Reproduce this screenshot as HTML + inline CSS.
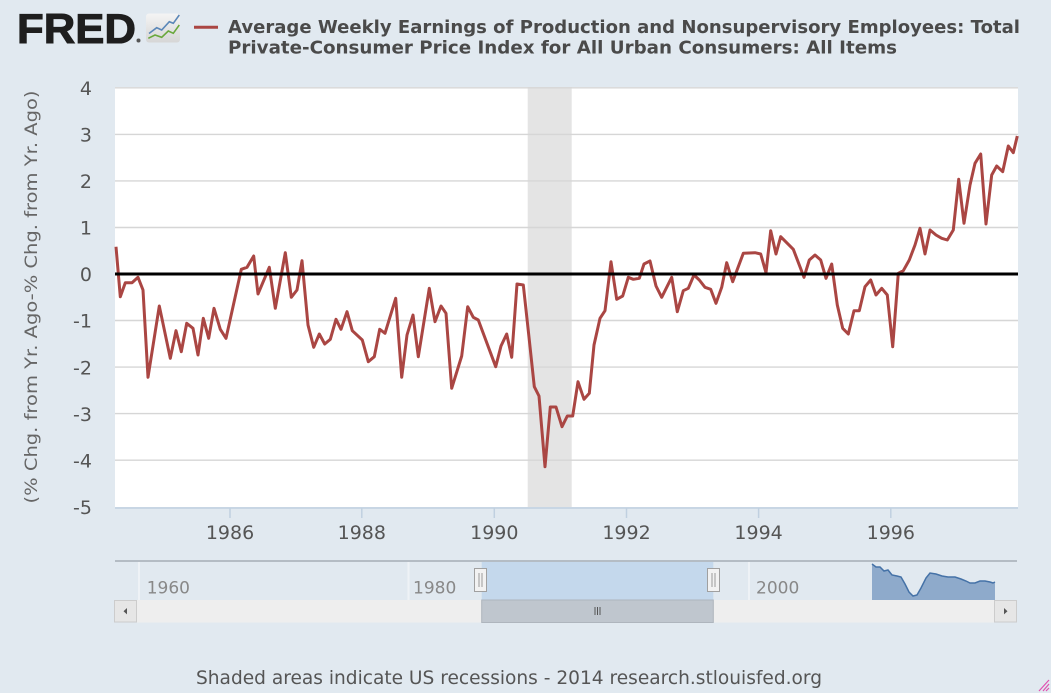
<!DOCTYPE html>
<html>
<head>
<meta charset="utf-8">
<style>
html,body{margin:0;padding:0;background:#e1e9f0;}
svg{display:block;}
</style>
</head>
<body>
<svg width="1051" height="693" viewBox="0 0 1051 693" xmlns="http://www.w3.org/2000/svg">
  <rect x="0" y="0" width="1051" height="693" fill="#e1e9f0"/>

  <!-- FRED logo -->
  <text x="17" y="43" font-family="Liberation Sans, Arial, sans-serif" font-weight="bold" font-size="42" fill="#1e1e1e" stroke="#1e1e1e" stroke-width="1" textLength="119" lengthAdjust="spacingAndGlyphs">FRED</text>
  <circle cx="138.5" cy="40.5" r="2" fill="#555"/>
  <defs>
    <linearGradient id="ig" x1="0" y1="0" x2="0" y2="1">
      <stop offset="0" stop-color="#f4f4f4"/>
      <stop offset="1" stop-color="#d6d6d6"/>
    </linearGradient>
  </defs>
  <rect x="146" y="13.5" width="34" height="29" rx="3" fill="url(#ig)"/>
  <polyline points="149,33.5 156.7,27.7 161.7,30 169.3,21.7 173.3,23.3 179.3,15" fill="none" stroke="#5b87b8" stroke-width="1.6"/>
  <polyline points="148.3,38.3 155,35 161.7,37.3 168.3,31 173.3,33.3 179.3,25" fill="none" stroke="#6aa83c" stroke-width="1.6"/>

  <!-- legend / title -->
  <line x1="194" y1="27.3" x2="218" y2="27.3" stroke="#aa4643" stroke-width="3"/>
  <text x="228" y="33" font-family="DejaVu Sans, Verdana, sans-serif" font-weight="bold" font-size="17.5" fill="#4a4a4a" textLength="792" lengthAdjust="spacingAndGlyphs">Average Weekly Earnings of Production and Nonsupervisory Employees: Total</text>
  <text x="228" y="53.5" font-family="DejaVu Sans, Verdana, sans-serif" font-weight="bold" font-size="17.5" fill="#4a4a4a" textLength="669" lengthAdjust="spacingAndGlyphs">Private-Consumer Price Index for All Urban Consumers: All Items</text>

  <!-- plot area -->
  <rect x="115" y="87" width="903" height="420" fill="#ffffff"/>
  <!-- recession -->
  <rect x="527.7" y="87" width="44" height="420" fill="#e4e4e4"/>

  <!-- gridlines -->
  <g stroke="#d6d6d6" stroke-width="1.4">
    <line x1="115" y1="87.8" x2="1018" y2="87.8"/>
    <line x1="115" y1="134.4" x2="1018" y2="134.4"/>
    <line x1="115" y1="180.9" x2="1018" y2="180.9"/>
    <line x1="115" y1="227.5" x2="1018" y2="227.5"/>
    <line x1="115" y1="320.5" x2="1018" y2="320.5"/>
    <line x1="115" y1="367.1" x2="1018" y2="367.1"/>
    <line x1="115" y1="413.6" x2="1018" y2="413.6"/>
    <line x1="115" y1="460.2" x2="1018" y2="460.2"/>
  </g>

  <!-- x axis -->
  <line x1="115" y1="508" x2="1018" y2="508" stroke="#c0d0e0" stroke-width="1.5"/>
  <g stroke="#c0d0e0" stroke-width="1.5">
    <line x1="230" y1="508" x2="230" y2="518"/>
    <line x1="361.8" y1="508" x2="361.8" y2="518"/>
    <line x1="494.3" y1="508" x2="494.3" y2="518"/>
    <line x1="626.5" y1="508" x2="626.5" y2="518"/>
    <line x1="758.6" y1="508" x2="758.6" y2="518"/>
    <line x1="890.8" y1="508" x2="890.8" y2="518"/>
  </g>
  <g font-family="DejaVu Sans, Verdana, sans-serif" font-size="19" fill="#555" text-anchor="middle">
    <text x="230" y="539">1986</text>
    <text x="361.8" y="539">1988</text>
    <text x="494.3" y="539">1990</text>
    <text x="626.5" y="539">1992</text>
    <text x="758.6" y="539">1994</text>
    <text x="890.8" y="539">1996</text>
  </g>

  <!-- y labels -->
  <g font-family="DejaVu Sans, Verdana, sans-serif" font-size="19" fill="#555" text-anchor="end">
    <text x="92" y="95">4</text>
    <text x="92" y="141.6">3</text>
    <text x="92" y="188.1">2</text>
    <text x="92" y="234.7">1</text>
    <text x="92" y="281.2">0</text>
    <text x="92" y="327.7">-1</text>
    <text x="92" y="374.3">-2</text>
    <text x="92" y="420.8">-3</text>
    <text x="92" y="467.4">-4</text>
    <text x="92" y="514">-5</text>
  </g>
  <text transform="translate(37,297) rotate(-90)" x="0" y="0" font-family="DejaVu Sans, Verdana, sans-serif" font-size="17" fill="#666" text-anchor="middle" textLength="413" lengthAdjust="spacingAndGlyphs">(% Chg. from Yr. Ago-% Chg. from Yr. Ago)</text>

  <!-- series -->
  <polyline fill="none" stroke="#aa4643" stroke-width="3" stroke-linejoin="round" points="
116,246.7 120.3,296.7 125.3,282.7 132,282.7 138,277.3 143,290 148,377.3 159.3,306 170.3,358.3 176,330.7 181.3,351.7 186.7,323.3 193,328.3 198,355 203.3,318.3 208.7,338.3 214,308.3 220.3,329.3 226,338.3 241.3,269.3 247,267.3 253.7,256 258,294 269.3,267.3 275.3,308.3 285.3,252.7 291.3,297.3 297,290 302,260.7 308,325 313.7,347.3 319.3,334 324.7,344 330.3,339.3 336,319.3 341,329.3 347,311.7 352.3,330.7 362.3,340 368.3,361.7 374.3,356.7 379.7,329.3 385,333.3 395.7,298.3 401.7,377.3 407,335 413,315 418.3,356.7 429.3,288.3 435,321.7 441,306 446,313.3 451.7,388.3 461.7,356 467.7,306.7 473.3,317.3 478.3,320 495.7,366.7 501,346 506.7,334 511.7,357.3 517,284 523.3,285 529.3,340 534.3,386.7 539,396 545,466.7 550.3,407 556,407 562,426.7 567.3,416 572.7,416 578,381.7 584,399.3 589.3,393.3 594,345 600,318.3 605,310.7 611,261.7 616.7,299.3 622.7,296 628.3,277.3 633.3,279.3 639.3,278.3 644,264 650,261 656,286 661.7,297.3 671.7,277.3 677.3,311.7 683.3,290.7 688.3,288.3 694,275 699.3,280 705,287.3 710.7,289.3 716,303.3 721.7,287.3 726.7,262.7 732.7,281.7 743.3,253.3 755,252.7 760.7,254 766,272.7 770.7,230.7 776,254 780.7,236.7 793.3,249.3 804,277.3 809.3,260 815,255 820.7,260 826,278.3 831.7,264 837.3,305 842.7,328.3 848.3,334 854,310.7 859.3,310.7 865,286.7 870.7,280 876,295 881.7,288.3 887.3,295 892.7,346.7 898.3,273.3 903.3,270.7 909.3,260 915,245 920,228.3 925,254 930,230 936,235 941.7,238.3 947.3,240 953.3,230 958.7,179.3 964,223.3 970,185 975,163.3 980.7,154 986,224 991.7,175 996.7,166 1002.7,171.7 1008.3,146 1013.3,152.7 1017.3,136"/>

  <!-- zero line -->
  <line x1="115" y1="274" x2="1018" y2="274" stroke="#000" stroke-width="3"/>

  <!-- navigator -->
  <rect x="481.7" y="561" width="231.6" height="39" fill="#c4d8ec"/>
  <g stroke="#eef2f6" stroke-width="2">
    <line x1="139" y1="562" x2="139" y2="600"/>
    <line x1="408.5" y1="562" x2="408.5" y2="600"/>
    <line x1="749" y1="562" x2="749" y2="600"/>
  </g>
  <path d="M872,564 L876,567 L880,567 L884,571 L888,570 L892,575 L897,576 L901,577 L905,584 L909,592 L913,596 L917,595 L921,588 L926,578 L930,573 L936,574 L942,576 L948,577 L955,577 L961,579 L966,581 L970,583 L975,583 L980,581 L985,581 L990,582 L993,583 L995,582 L995,600 L872,600 Z" fill="#8eaacb"/>
  <path d="M872,564 L876,567 L880,567 L884,571 L888,570 L892,575 L897,576 L901,577 L905,584 L909,592 L913,596 L917,595 L921,588 L926,578 L930,573 L936,574 L942,576 L948,577 L955,577 L961,579 L966,581 L970,583 L975,583 L980,581 L985,581 L990,582 L993,583 L995,582" fill="none" stroke="#4572a7" stroke-width="1.5"/>
  <line x1="115" y1="561" x2="1017" y2="561" stroke="#b4bcc4" stroke-width="2"/>
  <g font-family="DejaVu Sans, Verdana, sans-serif" font-size="17" fill="#888">
    <text x="146.7" y="593.5">1960</text>
    <text x="413" y="593.5">1980</text>
    <text x="756" y="593.5">2000</text>
  </g>
  <!-- handles -->
  <rect x="474.5" y="568.5" width="12" height="23" fill="#f2f2f2" stroke="#a0a0a0" stroke-width="1"/>
  <line x1="479" y1="573" x2="479" y2="587" stroke="#999" stroke-width="1"/>
  <line x1="482" y1="573" x2="482" y2="587" stroke="#999" stroke-width="1"/>
  <rect x="707.5" y="568.5" width="12" height="23" fill="#f2f2f2" stroke="#a0a0a0" stroke-width="1"/>
  <line x1="712" y1="573" x2="712" y2="587" stroke="#999" stroke-width="1"/>
  <line x1="715" y1="573" x2="715" y2="587" stroke="#999" stroke-width="1"/>

  <!-- scrollbar -->
  <rect x="136" y="600" width="858" height="22.5" fill="#eeeeee"/>
  <rect x="481.7" y="600" width="231.6" height="22.5" fill="#bfc6ce" stroke="#aeb5bd" stroke-width="1"/>
  <g stroke="#555" stroke-width="1">
    <line x1="595" y1="607" x2="595" y2="615"/>
    <line x1="597.5" y1="607" x2="597.5" y2="615"/>
    <line x1="600" y1="607" x2="600" y2="615"/>
  </g>
  <rect x="114.5" y="600.5" width="22" height="21.5" fill="#e6e6e6" stroke="#cccccc" stroke-width="1"/>
  <path d="M123.5,611.2 L127,608 L127,614.4 Z" fill="#555"/>
  <rect x="994.5" y="600.5" width="22" height="21.5" fill="#e6e6e6" stroke="#cccccc" stroke-width="1"/>
  <path d="M1007.5,611.2 L1004,608 L1004,614.4 Z" fill="#555"/>

  <!-- footer -->
  <text x="196" y="684" font-family="DejaVu Sans, Verdana, sans-serif" font-size="19" fill="#555" textLength="626" lengthAdjust="spacingAndGlyphs">Shaded areas indicate US recessions - 2014 research.stlouisfed.org</text>

  <!-- resize corner -->
  <g stroke="#e050b0" stroke-width="1.2">
    <line x1="1049" y1="680" x2="1039" y2="691"/>
    <line x1="1049" y1="684" x2="1043" y2="691"/>
    <line x1="1049" y1="688" x2="1046" y2="691"/>
  </g>
</svg>
</body>
</html>
